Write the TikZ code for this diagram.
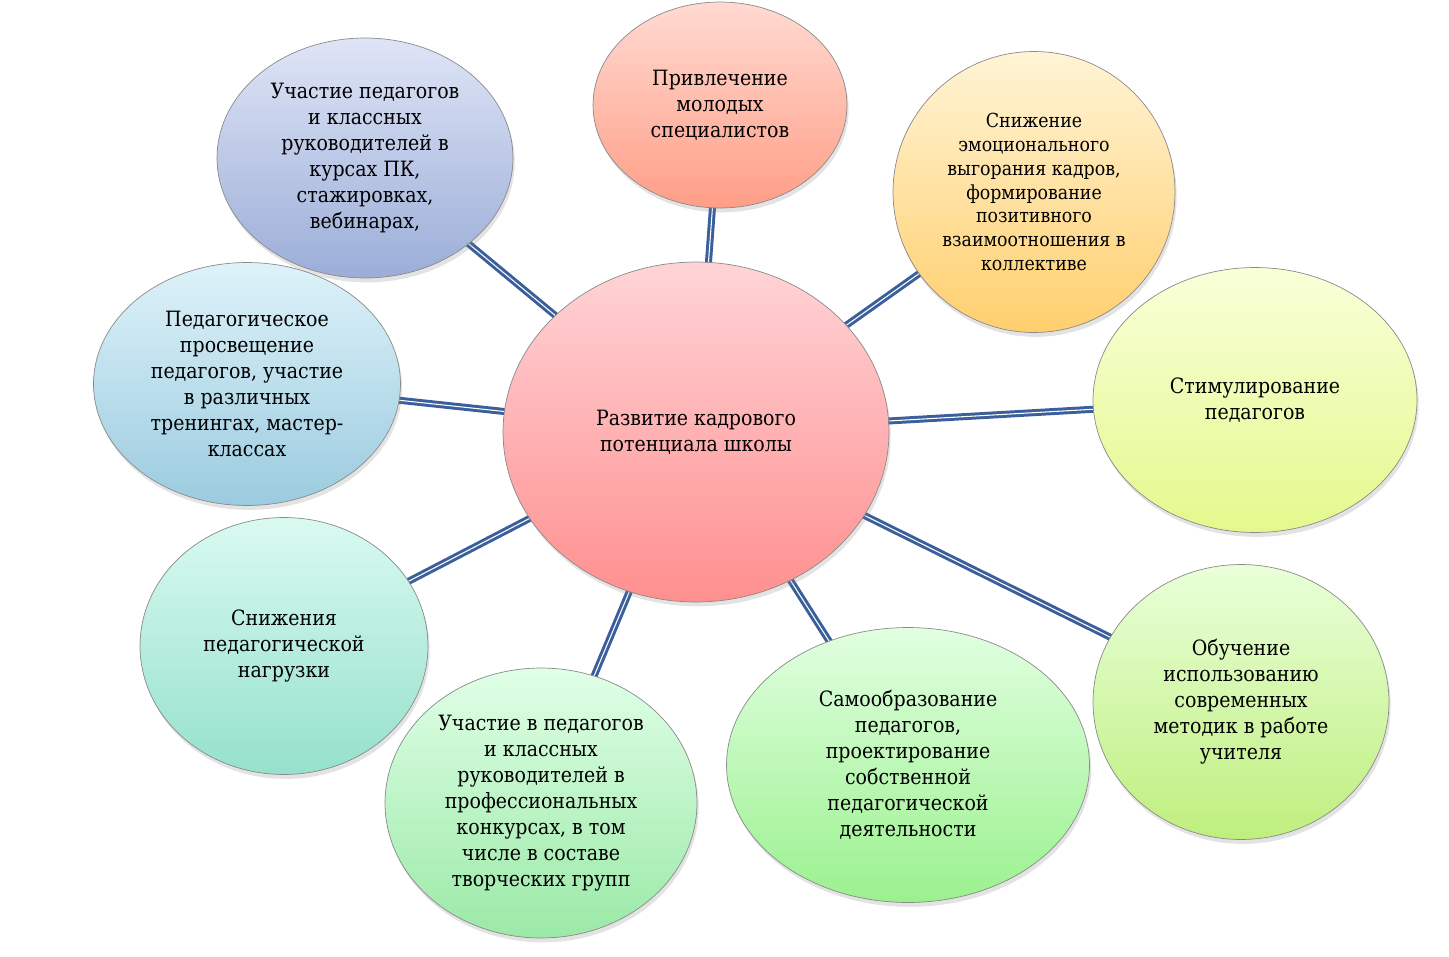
\documentclass[tikz,border=0pt]{standalone}
\usepackage{fontspec}
\setmainfont{DejaVu Serif Condensed}
\newfontfamily\bubblefont{DejaVu Serif Condensed}
\usetikzlibrary{shapes.geometric, shadows, backgrounds}

\definecolor{linkblue}{HTML}{3B5F9B}
\definecolor{rimgray}{HTML}{8A8A8A}
% bubble shades, top / bottom
\definecolor{hubtop}{HTML}{FFD4D7}      \definecolor{hubbot}{HTML}{FF8F8F}
\definecolor{coursestop}{HTML}{DFE5F6}  \definecolor{coursesbot}{HTML}{9BADD8}
\definecolor{youngtop}{HTML}{FFDAD2}    \definecolor{youngbot}{HTML}{FF9E86}
\definecolor{burnouttop}{HTML}{FFF4D6}  \definecolor{burnoutbot}{HTML}{FFCF6E}
\definecolor{stimultop}{HTML}{F9FFD9}   \definecolor{stimulbot}{HTML}{E3F98C}
\definecolor{methodstop}{HTML}{E9FFD9}  \definecolor{methodsbot}{HTML}{BFEF7E}
\definecolor{selfedutop}{HTML}{E1FFE1}  \definecolor{selfedubot}{HTML}{9BF18E}
\definecolor{conteststop}{HTML}{E0FFE7} \definecolor{contestsbot}{HTML}{9BE9A7}
\definecolor{loadtop}{HTML}{D9FAF1}     \definecolor{loadbot}{HTML}{95E1CB}
\definecolor{enlighttop}{HTML}{DEF2F9}  \definecolor{enlightbot}{HTML}{9BCBDF}

\begin{document}
\begin{tikzpicture}[
  x=0.02cm, y=-0.02cm,
  bubble/.style = {ellipse, draw=rimgray, line width=0.4pt,
    top color=#1top, bottom color=#1bot, inner sep=0pt, align=center,
    font=\bubblefont\fontsize{12}{14.8}\selectfont,
    drop shadow={opacity=0.22, shadow xshift=1pt, shadow yshift=-2.5pt}},
  link/.style = {draw=linkblue, double=white, line width=1.7pt, double distance=0.6pt}
]
  \useasboundingbox (0,0) rectangle (1449,956);

  % centre
  \node[bubble=hub, minimum width=7.72cm, minimum height=6.8cm]
    (hub) at (696,432) {Развитие кадрового\\потенциала школы};

  % surrounding bubbles
  \node[bubble=courses, minimum width=5.92cm, minimum height=4.8cm]
    (courses) at (365,158) {Участие педагогов\\и классных\\руководителей в\\курсах ПК,\\стажировках,\\вебинарах,};
  \node[bubble=young, minimum width=5.08cm, minimum height=4.12cm]
    (young) at (720,105) {Привлечение\\молодых\\специалистов};
  \node[bubble=burnout, minimum width=5.64cm, minimum height=5.62cm,
    font=\bubblefont\fontsize{11}{13.6}\selectfont]
    (burnout) at (1034,192) {Снижение\\эмоционального\\выгорания кадров,\\формирование\\позитивного\\взаимоотношения в\\коллективе};
  \node[bubble=stimul, minimum width=6.48cm, minimum height=5.3cm]
    (stimul) at (1255,400) {Стимулирование\\педагогов};
  \node[bubble=methods, minimum width=5.92cm, minimum height=5.5cm]
    (methods) at (1241,702) {Обучение\\использованию\\современных\\методик в работе\\учителя};
  \node[bubble=selfedu, minimum width=7.26cm, minimum height=5.5cm]
    (selfedu) at (908,765) {Самообразование\\педагогов,\\проектирование\\собственной\\педагогической\\деятельности};
  \node[bubble=contests, minimum width=6.24cm, minimum height=5.4cm]
    (contests) at (541,803) {Участие в педагогов\\и классных\\руководителей в\\профессиональных\\конкурсах, в том\\числе в составе\\творческих групп};
  \node[bubble=load, minimum width=5.76cm, minimum height=5.14cm]
    (load) at (284,646) {Снижения\\педагогической\\нагрузки};
  \node[bubble=enlight, minimum width=6.14cm, minimum height=4.86cm]
    (enlight) at (247,384) {Педагогическое\\просвещение\\педагогов, участие\\в различных\\тренингах, мастер-\\классах};

  % connectors
  \begin{scope}[on background layer]
    \foreach \n in {courses, young, burnout, stimul, methods, selfedu, contests, load, enlight}
      \draw[link] (hub.center) -- (\n.center);
  \end{scope}

\end{tikzpicture}
\end{document}
